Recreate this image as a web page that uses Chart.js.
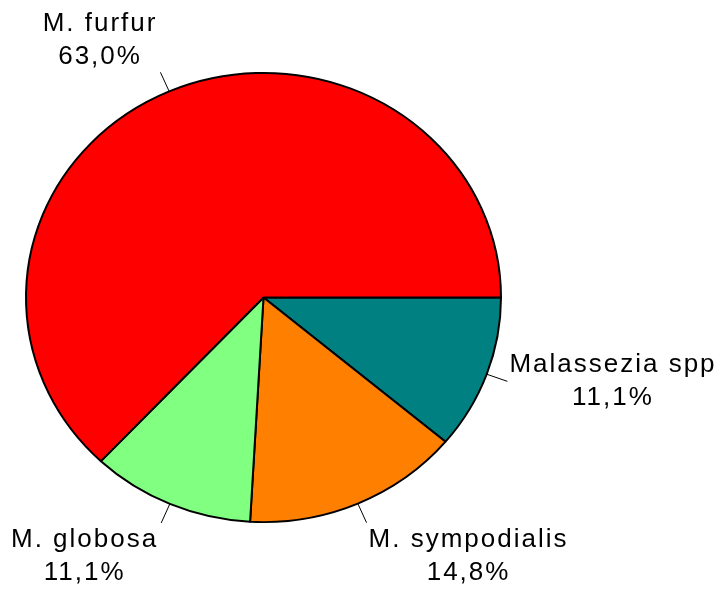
<!DOCTYPE html>
<html>
<head>
<meta charset="utf-8">
<script src="https://cdn.jsdelivr.net/npm/chart.js@4"></script>
<style>
  html, body { margin: 0; padding: 0; background: #fff; }
  canvas { display: block; }
</style>
</head>
<body>
<canvas id="pie" width="727" height="590"></canvas>
<script>
// slices go clockwise from 3 o'clock
const species = ['Malassezia spp', 'M. sympodialis', 'M. globosa', 'M. furfur'];
const shares = [11.1, 14.8, 11.1, 63.0];
const sliceColors = ['#008080', '#FF8000', '#80FF80', '#FF0000'];

const yScale = 0.9455; // the pie is slightly squashed vertically
const FONT = '26px "Liberation Sans", Arial, sans-serif';

const fmt = v => v.toFixed(1).replace('.', ',') + '%';

// squash the pie into an ellipse, labels are drawn afterwards untouched
const ellipsePlugin = {
    id: 'ellipse',
    beforeDatasetsDraw(chart) {
        const arc = chart.getDatasetMeta(0).data[0];
        const ctx = chart.ctx;
        ctx.save();
        ctx.translate(0, arc.y);
        ctx.scale(1, yScale);
        ctx.translate(0, -arc.y);
    },
    afterDatasetsDraw(chart) {
        chart.ctx.restore();
    }
};

const labelPlugin = {
    id: 'sliceLabels',
    afterDraw(chart) {
        const ctx = chart.ctx;
        const meta = chart.getDatasetMeta(0);
        ctx.save();
        ctx.font = FONT;
        ctx.letterSpacing = '2px';
        ctx.fillStyle = '#000';
        ctx.strokeStyle = '#000';
        ctx.lineWidth = 1;
        ctx.textBaseline = 'middle';
        ctx.textAlign = 'center';
        meta.data.forEach((arc, i) => {
            const mid = (arc.startAngle + arc.endAngle) / 2;
            const c = Math.cos(mid), s = Math.sin(mid);
            const r = arc.outerRadius;
            const x0 = arc.x + r * c, y0 = arc.y + r * yScale * s;
            const x1 = arc.x + (r + 22) * c, y1 = arc.y + (r + 22) * yScale * s;
            ctx.beginPath();
            ctx.moveTo(x0, y0);
            ctx.lineTo(x1, y1);
            ctx.stroke();

            const lines = [species[i], fmt(shares[i])];
            const w = Math.max(...lines.map(t => ctx.measureText(t).width));
            const lh = 33;
            let cx;
            if (c > 0.3) cx = x1 + 2 + w / 2;
            else if (c < -0.3) cx = x1 - 3 - w / 2;
            else cx = x1;
            let firstY;
            if (s > 0.5) firstY = y1 + 17;
            else if (s < -0.5) firstY = y1 - 15 - lh;
            else firstY = y1 - lh / 2;
            lines.forEach((t, k) => ctx.fillText(t, cx, firstY + k * lh));
        });
        ctx.restore();
    }
};

new Chart(document.getElementById('pie').getContext('2d'), {
    type: 'pie',
    data: {
        labels: species,
        datasets: [{
            data: shares,
            backgroundColor: sliceColors,
            borderColor: '#000',
            borderWidth: 2,
            hoverOffset: 0
        }]
    },
    options: {
        responsive: false,
        devicePixelRatio: 1,
        animation: false,
        rotation: 90,
        layout: {
            padding: { left: 25, right: 225, top: 59, bottom: 54 }
        },
        plugins: {
            legend: { display: false },
            tooltip: { enabled: false }
        }
    },
    plugins: [ellipsePlugin, labelPlugin]
});
</script>
</body>
</html>
